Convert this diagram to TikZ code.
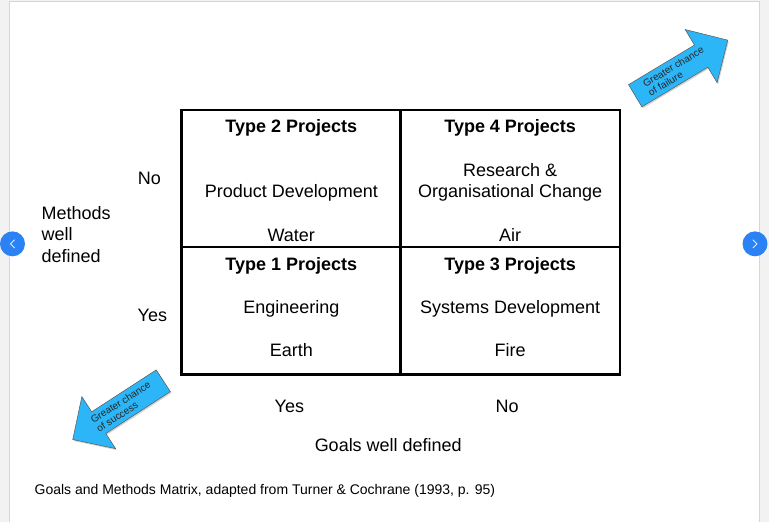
\documentclass[tikz,border=0pt]{standalone}
\usepackage{fontspec}
\setmainfont{Liberation Sans}
\usetikzlibrary{shapes.arrows,shadows}

\definecolor{pagegray}{HTML}{F2F2F2}
\definecolor{panelline}{HTML}{D6D6D6}
\definecolor{navblue}{HTML}{2A82F4}
\definecolor{arrowblue}{HTML}{2DB6F7}

\begin{document}
\begin{tikzpicture}
[
	x=1pt, y=-1pt,
	label/.style={font=\fontsize{18}{21.5}\selectfont, inner sep=0pt, anchor=base},
	heading/.style={label, font=\fontsize{18}{21.5}\selectfont\bfseries},
	gridline/.style={line width=2.6pt},
	bigarrow/.style={single arrow, draw=black!65, line width=0.5pt, fill=arrowblue,
		minimum height=108pt, minimum width=62pt, single arrow head extend=17pt,
		inner xsep=1pt, inner ysep=3pt, align=left, font=\fontsize{10}{10.5}\selectfont, text=black!85,
		drop shadow={shadow xshift=1pt, shadow yshift=-1.5pt, fill=black!35}},
	navbtn/.style={circle, fill=navblue, minimum size=25pt, inner sep=0pt},
]

	% page and panel
	\fill[pagegray] (0,0) rectangle (769,522);
	\fill[white] (9,1) rectangle (759,522);
	\draw[panelline] (9,522) -- (9,1) -- (759,1) -- (759,522);

	% matrix
	\draw[gridline] (181,110) rectangle (620,375);
	\draw[gridline] (400,110) -- (400,375);
	\draw[gridline] (181,247) -- (620,247);

	% cells
	\node[heading] (type2) at (291,133) {Type 2 Projects};
	\node[label] (product) at (291,197.5) {Product Development};
	\node[label] (water) at (291,241.5) {Water};

	\node[heading] (type4) at (510,133) {Type 4 Projects};
	\node[label] (research) at (510,176.5) {Research \&};
	\node[label] (orgchange) at (510,197.5) {Organisational Change};
	\node[label] (air) at (510,241.5) {Air};

	\node[heading] (type1) at (291,270.5) {Type 1 Projects};
	\node[label] (engineering) at (291,313.5) {Engineering};
	\node[label] (earth) at (291,356.5) {Earth};

	\node[heading] (type3) at (510,270.5) {Type 3 Projects};
	\node[label] (systems) at (510,313.5) {Systems Development};
	\node[label] (fire) at (510,356.5) {Fire};

	% axis labels
	\node[label] (methodsno) at (149,184.5) {No};
	\node[label] (methodsyes) at (152,321.5) {Yes};
	\node[label, anchor=north west, align=left] (methods) at (41,206) {Methods\\well\\defined};

	\node[label] (goalsyes) at (289,412.5) {Yes};
	\node[label] (goalsno) at (507,412.5) {No};
	\node[label] (goals) at (388,451.5) {Goals well defined};

	% caption
	\node[inner sep=0pt, anchor=base west, font=\fontsize{14}{16}\selectfont] (caption) at (34,495)
		{Goals and Methods Matrix, adapted from Turner \& Cochrane (1993, p. 95)};

	% block arrows
	\node[bigarrow, rotate=31, anchor=tip] (failure) at (728,40) {Greater chance\\of failure};
	\node[bigarrow, rotate=33, shape border rotate=180, anchor=tip] (success) at (72,440) {Greater chance\\of success};

	% slide buttons
	\node[navbtn] (prev) at (12,244) {};
	\draw[white, thick, line cap=round, line join=round]
		([shift={(2,-4)}]prev.center) -- ([shift={(-2,0)}]prev.center) -- ([shift={(2,4)}]prev.center);
	\node[navbtn] (next) at (755,244) {};
	\draw[white, thick, line cap=round, line join=round]
		([shift={(-2,-4)}]next.center) -- ([shift={(2,0)}]next.center) -- ([shift={(-2,4)}]next.center);

\end{tikzpicture}
\end{document}
